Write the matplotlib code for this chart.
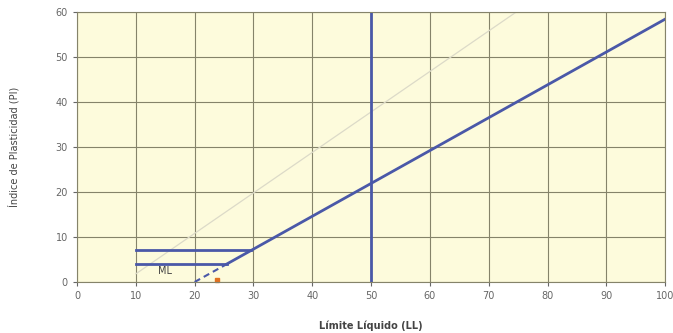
import numpy as np
import matplotlib.pyplot as plt

# chart values
x_ticks = [0, 10, 20, 30, 40, 50, 60, 70, 80, 90, 100]
y_ticks = [0, 10, 20, 30, 40, 50, 60]

# A line: PI = 0.73 (LL - 20)
a_line_ll = [25.5, 100]
a_line_pi = [0.73 * (v - 20) for v in a_line_ll]
# dashed start of the A line
a_dash_ll = [20, 25.5]
a_dash_pi = [0, 4]
# U line (faint)
u_line_ll = [10, 74.7]
u_line_pi = [1.8, 60]
# CL-ML band
band_top_ll = [10, 29.6]
band_top_pi = [7, 7]
band_bot_ll = [10, 25.5]
band_bot_pi = [4, 4]
# liquid limit 50 divider
ll50 = 50
# sample point
point_ll = [23.8]
point_pi = [0.4]

line_col = '#4a58a8'
grid_col = '#85836a'

fig = plt.figure(figsize=(6.73, 3.33), dpi=100)
ax = fig.add_axes([0.1144, 0.1532, 0.874, 0.811])
ax.set_facecolor('#fdfbdc')

ax.set_xlim(0, 100)
ax.set_ylim(0, 60)
ax.set_xticks(x_ticks)
ax.set_yticks(y_ticks)
ax.grid(True, color=grid_col, linewidth=0.8)
ax.set_axisbelow(True)
for s in ax.spines.values():
    s.set_color(grid_col)
    s.set_linewidth(0.8)
ax.tick_params(labelsize=7, colors='#666666', length=3, width=0.8)

ax.plot(u_line_ll, u_line_pi, color='#dcdac8', linewidth=0.9)
ax.plot(a_line_ll, a_line_pi, color=line_col, linewidth=2)
ax.plot(a_dash_ll, a_dash_pi, color=line_col, linewidth=1.5, linestyle='--', dashes=(3, 2))
ax.plot(band_top_ll, band_top_pi, color=line_col, linewidth=2)
ax.plot(band_bot_ll, band_bot_pi, color=line_col, linewidth=2)
ax.axvline(ll50, color=line_col, linewidth=2)
ax.plot(point_ll, point_pi, 's', color='#e07020', markersize=3.5, clip_on=False)
ax.text(15, 2.5, 'ML', fontsize=7, color='#444444', ha='center', va='center')

ax.set_xlabel('Límite Líquido (LL)', fontsize=7, fontweight='bold', color='#444444', labelpad=14)
ax.set_ylabel('Índice de Plasticidad (PI)', fontsize=7, color='#444444', labelpad=26)

fig.savefig('out.png', dpi=100, facecolor='white')
